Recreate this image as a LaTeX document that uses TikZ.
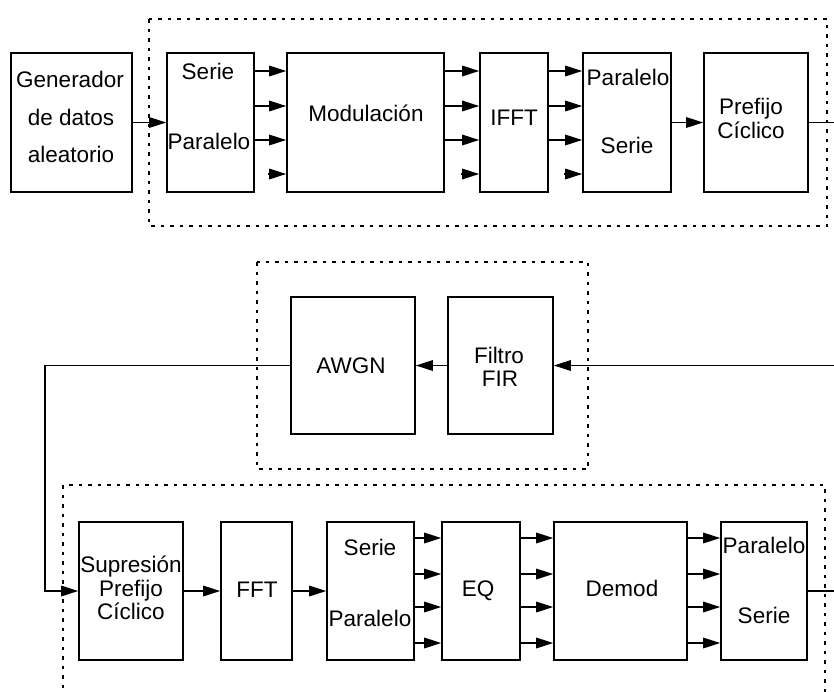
\documentclass[tikz,border=0pt]{standalone}
\usepackage{fontspec}
\setmainfont{Liberation Sans}
\usetikzlibrary{arrows.meta}
\begin{document}
\begin{tikzpicture}[x=1pt,y=-1pt,
  blk/.style={draw, line width=1.6pt, inner sep=0pt, minimum width=#1},
  toprow/.style={minimum height=139pt},
  midrow/.style={minimum height=137pt},
  botrow/.style={minimum height=138pt},
  txt/.style={inner sep=0pt, anchor=base, font=\fontsize{22.5}{27}\selectfont},
  arr/.style={line width=1.6pt, -{Triangle[length=17pt,width=10.5pt]}},
  plain/.style={line width=1.6pt},
  frame/.style={line width=2.6pt, dash pattern=on 3.5pt off 6pt}]
\useasboundingbox (0,0) rectangle (834,691);
\fill[white] (0,0) rectangle (834,691);

% ---- top row boxes
\node[blk=121pt, toprow] (gen)  at (71.5,122.5) {};
\node[blk=87pt,  toprow] (sp1)  at (210.5,122.5) {};
\node[blk=157pt, toprow] (mod)  at (365.5,122.5) {};
\node[blk=68pt,  toprow] (ifft) at (514,122.5) {};
\node[blk=88pt,  toprow] (ps1)  at (627,122.5) {};
\node[blk=104pt, toprow] (pre)  at (756,122.5) {};

% ---- middle row boxes
\node[blk=124pt, midrow] (awgn) at (353,365.5) {};
\node[blk=105pt, midrow] (fir)  at (500.5,365.5) {};

% ---- bottom row boxes
\node[blk=104pt, botrow] (sup) at (131,591) {};
\node[blk=71pt,  botrow] (fft) at (256.5,591) {};
\node[blk=87pt,  botrow] (sp2) at (370.5,591) {};
\node[blk=78pt,  botrow] (eq)  at (481,591) {};
\node[blk=133pt, botrow] (dem) at (620.5,591) {};
\node[blk=86pt,  botrow] (ps2) at (764,591) {};

% ---- texts
\node[txt] (genA) at (70,87) {Generador};
\node[txt] (genB) at (71,125) {de datos};
\node[txt] (genC) at (71,162) {aleatorio};
\node[txt] (sp1A) at (208,79) {Serie};
\node[txt] (sp1B) at (209,149) {Paralelo};
\node[txt] (modT) at (366,121) {Modulación};
\node[txt] (ifftT) at (514,125) {IFFT};
\node[txt] (ps1A) at (628,85) {Paralelo};
\node[txt] (ps1B) at (627,153) {Serie};
\node[txt] (preA) at (751,114) {Prefijo};
\node[txt] (preB) at (751,138) {Cíclico};
\node[txt] (awgnT) at (351,373) {AWGN};
\node[txt] (firA) at (499,363) {Filtro};
\node[txt] (firB) at (500,386) {FIR};
\node[txt] (supA) at (131,572) {Supresión};
\node[txt] (supB) at (131,596) {Prefijo};
\node[txt] (supC) at (131,619) {Cíclico};
\node[txt] (fftT) at (257,597) {FFT};
\node[txt] (sp2A) at (370,555) {Serie};
\node[txt] (sp2B) at (370,626) {Paralelo};
\node[txt] (eqT) at (478,596) {EQ};
\node[txt] (demT) at (622,596) {Demod};
\node[txt] (ps2A) at (764,553) {Paralelo};
\node[txt] (ps2B) at (764,623) {Serie};

% ---- free ends
\coordinate (outT) at (834,122.5);
\coordinate (inR)  at (834,365.5);
\coordinate (turn) at (45,365.5);
\coordinate (outB) at (834,591);

% ---- top connectors
\draw[arr] (gen.east) -- (sp1.west);
\foreach \o in {51.5,16.5,-17.5} {
  \draw[arr] ([yshift=\o pt]sp1.east) -- ([yshift=\o pt]mod.west);
  \draw[arr] ([yshift=\o pt]mod.east) -- ([yshift=\o pt]ifft.west);
  \draw[arr] ([yshift=\o pt]ifft.east) -- ([yshift=\o pt]ps1.west);
}
\draw[arr] ([xshift=-18pt,yshift=-51.5pt]mod.west) -- ([yshift=-51.5pt]mod.west);
\draw[arr] ([xshift=-18pt,yshift=-51.5pt]ifft.west) -- ([yshift=-51.5pt]ifft.west);
\draw[arr] ([xshift=-18pt,yshift=-51.5pt]ps1.west) -- ([yshift=-51.5pt]ps1.west);
\draw[arr] (ps1.east) -- (pre.west);
\draw[plain] (pre.east) -- (outT);

% ---- middle connectors
\draw[arr] (inR) -- (fir.east);
\draw[arr] (fir.west) -- (awgn.east);
\draw[arr] (awgn.west) -- (turn) |- (sup.west);

% ---- bottom connectors
\draw[arr] (sup.east) -- (fft.west);
\draw[arr] (fft.east) -- (sp2.west);
\foreach \o in {53,17,-16,-52} {
  \draw[arr] ([yshift=\o pt]sp2.east) -- ([yshift=\o pt]eq.west);
  \draw[arr] ([yshift=\o pt]eq.east) -- ([yshift=\o pt]dem.west);
  \draw[arr] ([yshift=\o pt]dem.east) -- ([yshift=\o pt]ps2.west);
}
\draw[plain] (ps2.east) -- (outB);

% ---- dotted frames
\draw[frame] (149,19) rectangle (827,226);
\draw[frame] (257,262) rectangle (588,469);
\draw[frame] (63,485) rectangle (825,730);
\end{tikzpicture}
\end{document}
